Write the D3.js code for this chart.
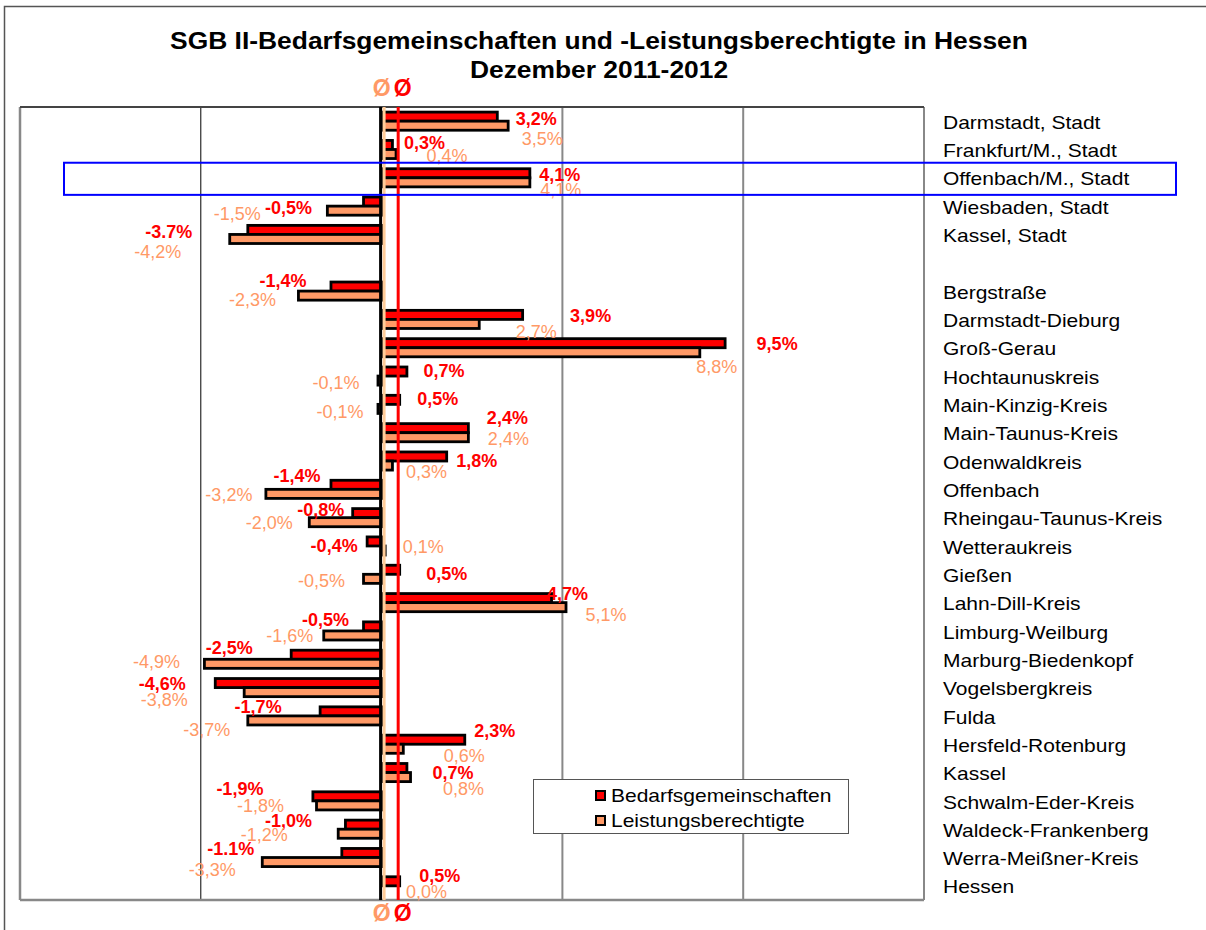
<!DOCTYPE html>
<html><head><meta charset="utf-8">
<script src="https://cdn.jsdelivr.net/npm/d3@7"></script>
<style>body{margin:0;background:#fff;overflow:hidden}svg{display:block}text{font-family:"Liberation Sans",Arial,sans-serif}</style>
</head><body>
<svg id="c" width="1206" height="930"></svg>
<script>
// ---- data ----
const categories = ["Darmstadt, Stadt","Frankfurt/M., Stadt","Offenbach/M., Stadt","Wiesbaden, Stadt","Kassel, Stadt","",
 "Bergstraße","Darmstadt-Dieburg","Groß-Gerau","Hochtaunuskreis","Main-Kinzig-Kreis","Main-Taunus-Kreis","Odenwaldkreis",
 "Offenbach","Rheingau-Taunus-Kreis","Wetteraukreis","Gießen","Lahn-Dill-Kreis","Limburg-Weilburg","Marburg-Biedenkopf",
 "Vogelsbergkreis","Fulda","Hersfeld-Rotenburg","Kassel","Schwalm-Eder-Kreis","Waldeck-Frankenberg","Werra-Meißner-Kreis","Hessen"];
const bedarf = [3.2,0.3,4.1,-0.5,-3.7,null,-1.4,3.9,9.5,0.7,0.5,2.4,1.8,-1.4,-0.8,-0.4,0.5,4.7,-0.5,-2.5,-4.6,-1.7,2.3,0.7,-1.9,-1.0,-1.1,0.5];
const leist  = [3.5,0.4,4.1,-1.5,-4.2,null,-2.3,2.7,8.8,-0.1,-0.1,2.4,0.3,-3.2,-2.0,0.1,-0.5,5.1,-1.6,-4.9,-3.8,-3.7,0.6,0.8,-1.8,-1.2,-3.3,0.0];
const bedarfLabels = ["3,2%","0,3%","4,1%","-0,5%","-3.7%","","-1,4%","3,9%","9,5%","0,7%","0,5%","2,4%","1,8%","-1,4%","-0,8%","-0,4%","0,5%","4,7%","-0,5%","-2,5%","-4,6%","-1,7%","2,3%","0,7%","-1,9%","-1,0%","-1.1%","0,5%"];
const leistLabels = ["3,5%","0,4%","4,1%","-1,5%","-4,2%","","-2,3%","2,7%","8,8%","-0,1%","-0,1%","2,4%","0,3%","-3,2%","-2,0%","0,1%","-0,5%","5,1%","-1,6%","-4,9%","-3,8%","-3,7%","0,6%","0,8%","-1,8%","-1,2%","-3,3%","0,0%"];
const avgBedarf = 0.5;   // Hessen
const avgLeist = 0.0;    // Hessen
const xTicks = [-10,-5,0,5,10,15];
const seriesNames = ["Bedarfsgemeinschaften","Leistungsberechtigte"];
const titleLines = ["SGB II-Bedarfsgemeinschaften und -Leistungsberechtigte in Hessen","Dezember 2011-2012"];

// ---- layout (manually placed data labels: offsets from bar end / row centre, px) ----
const bDx = [39,32,30,-75,-79,0,-48,68,52,37,38,39,30,-34,-32,-33,47,16,-38,-62,-53,-62,30,46,-73,-57,-111,40];
const bDy = [-2,-7,-3,2,-3,0,-10,-4,-4,-5,-6,-15,0,-14,-8,0,-1,-9,-11,-12,-4,-9,-14,0,-12,-9,-9,-10];
const lDx = [34,51,31,-90,-72,0,-46,57,17,-42,-38,40,34,-37,-40,38,-42,40,-34,-48,-80,-41,61,53,-56,-74,-50,45];
const lDy = [18,6,12,8,17,0,9,12,19,7,7,6,11,5,5,1,6,12,5,2,12,14,11,16,5,5,12,6];

const RED = "#ff0000", PEACH = "#ff9966", PEACH_LINE = "#ffcc99";
const svg = d3.select("#c");
const M = {l:20, r:924, t:107, b:900};

function txt(parent, x, y, s, o = {}) {
  const g = parent.append("g").attr("transform", `translate(${x},${y}) scale(${o.sx || 1},1)`);
  return g.append("text").attr("text-anchor", o.anchor || "middle").attr("dy", "0.35em")
    .attr("font-size", o.size || 18).attr("font-weight", o.bold ? "bold" : "normal")
    .attr("fill", o.fill || "#000").text(s);
}

const x = d3.scaleLinear().domain([-10, 15]).range([M.l, M.r]);
const y = d3.scaleBand().domain(d3.range(categories.length)).range([M.t, M.b]).paddingInner(0.36).paddingOuter(0.18);
const yc = i => y(i) + y.bandwidth() / 2;
const bh = y.bandwidth() / 2;

// outer frame
svg.append("rect").attr("x", 4.5).attr("y", 6.5).attr("width", 1300).attr("height", 1000)
  .attr("fill", "none").attr("stroke", "#555").attr("stroke-width", 1.5);

// title
titleLines.forEach((t, i) => txt(svg, 599, 41 + i * 29, t, {size: 24, bold: true, sx: 1.1}));

// grid
const gridColor = v => v === -5 ? "#000" : "#888";
svg.append("g").selectAll("line").data(xTicks.filter(v => v !== 0 && v !== -10)).join("line")
  .attr("x1", d => x(d)).attr("x2", d => x(d)).attr("y1", M.t).attr("y2", M.b)
  .attr("stroke", gridColor).attr("stroke-width", d => d === -5 ? 1 : 2);
// plot border
svg.append("line").attr("x1", x(-10)).attr("x2", x(-10)).attr("y1", M.t).attr("y2", M.b).attr("stroke", "#888").attr("stroke-width", 2.5);
svg.append("line").attr("x1", x(-10)).attr("x2", x(15)).attr("y1", M.b).attr("y2", M.b).attr("stroke", "#888").attr("stroke-width", 2.5);
svg.append("line").attr("x1", x(-10)).attr("x2", x(15)).attr("y1", M.t).attr("y2", M.t).attr("stroke", "#444").attr("stroke-width", 2);

// bars
const rows = d3.range(categories.length).filter(i => bedarf[i] !== null);
const bars = svg.append("g").attr("stroke", "#000").attr("stroke-width", 2.8);
bars.selectAll("rect.b").data(rows).join("rect").attr("class", "b")
  .attr("x", i => x(Math.min(0, bedarf[i]))).attr("width", i => Math.abs(x(bedarf[i]) - x(0)))
  .attr("y", i => y(i)).attr("height", bh).attr("fill", RED);
bars.selectAll("rect.l").data(rows.filter(i => leist[i] !== 0)).join("rect").attr("class", "l")
  .attr("x", i => x(Math.min(0, leist[i]))).attr("width", i => Math.abs(x(leist[i]) - x(0)))
  .attr("y", i => y(i) + bh).attr("height", bh).attr("fill", PEACH);

// zero axis and average lines
svg.append("line").attr("x1", x(0) - 1).attr("x2", x(0) - 1).attr("y1", M.t).attr("y2", M.b).attr("stroke", "#000").attr("stroke-width", 3);
svg.append("line").attr("x1", x(avgLeist) + 2.5).attr("x2", x(avgLeist) + 2.5).attr("y1", M.t).attr("y2", M.b).attr("stroke", PEACH_LINE).attr("stroke-width", 3);
svg.append("line").attr("x1", x(avgBedarf) - 1.5).attr("x2", x(avgBedarf) - 1.5).attr("y1", M.t).attr("y2", M.b).attr("stroke", RED).attr("stroke-width", 3);
[88, 913].forEach(yy => {
  txt(svg, x(avgLeist), yy, "Ø", {size: 23, bold: true, fill: PEACH});
  txt(svg, x(avgBedarf) + 3, yy, "Ø", {size: 23, bold: true, fill: RED});
});

// data labels
rows.forEach(i => {
  txt(svg, x(bedarf[i]) + bDx[i], yc(i) + bDy[i], bedarfLabels[i], {bold: true, fill: RED});
  txt(svg, x(leist[i]) + lDx[i], yc(i) + lDy[i], leistLabels[i], {fill: PEACH});
});

// category labels
categories.forEach((c, i) => { if (c) txt(svg, 943, yc(i) + 1.5, c, {size: 17.5, anchor: "start", sx: 1.2}); });

// highlight box
svg.append("rect").attr("x", 64).attr("y", y(2) - 6).attr("width", 1112).attr("height", y.bandwidth() + 14)
  .attr("fill", "none").attr("stroke", "#0000ff").attr("stroke-width", 2);

// legend
const lg = svg.append("g");
lg.append("rect").attr("x", 533.5).attr("y", 779.5).attr("width", 315).attr("height", 54).attr("fill", "#fff").attr("stroke", "#555").attr("stroke-width", 1);
[RED, PEACH].forEach((col, k) => {
  lg.append("rect").attr("x", 596).attr("y", 791 + k * 25).attr("width", 9).attr("height", 9).attr("fill", col).attr("stroke", "#000").attr("stroke-width", 2);
  txt(lg, 611, 796 + k * 25, seriesNames[k], {size: 17.5, anchor: "start", sx: 1.2});
});
</script>
</body></html>
